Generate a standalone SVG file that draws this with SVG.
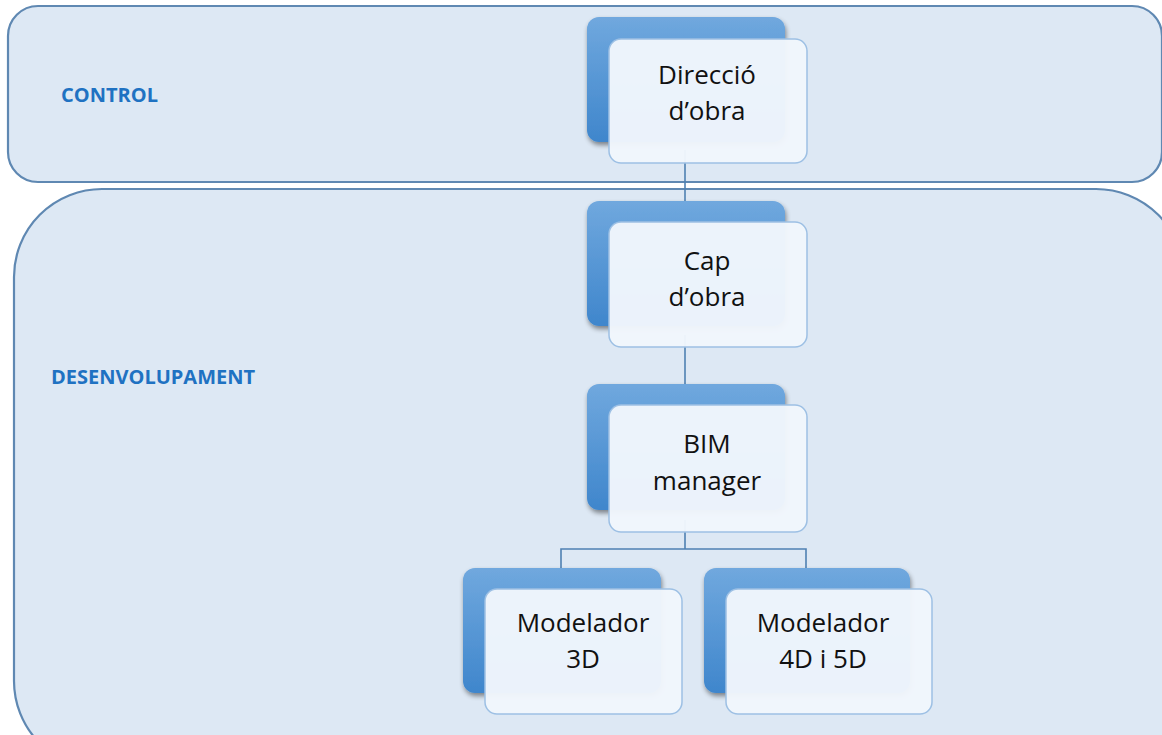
<svg xmlns="http://www.w3.org/2000/svg" width="1162" height="735" viewBox="0 0 1162 735">
<style>
.panel{fill:#dde8f4;stroke:#5f88b2;stroke-width:2.2}
.lbl{font-family:"Open Sans","DejaVu Sans",sans-serif;font-weight:bold;font-size:20px;fill:#1f72c2}
.back{fill:url(#bg);filter:url(#sh)}
.front{fill:#f1f6fc;fill-opacity:0.97;stroke:#9dc0e4;stroke-width:1.5}
.txt{font-family:"Open Sans","DejaVu Sans",sans-serif;font-size:26px;fill:#111;text-anchor:middle}
.conn{fill:none;stroke:#4f80b2;stroke-width:1.6}
</style>
<defs>
<linearGradient id="bg" x1="0" y1="0" x2="0" y2="1">
<stop offset="0" stop-color="#70a8de"/>
<stop offset="1" stop-color="#3f86cc"/>
</linearGradient>
<filter id="sh" x="-10%" y="-10%" width="125%" height="130%">
<feGaussianBlur in="SourceAlpha" stdDeviation="2.5"/>
<feOffset dx="1" dy="3" result="b"/>
<feComponentTransfer><feFuncA type="linear" slope="0.45"/></feComponentTransfer>
<feMerge><feMergeNode/><feMergeNode in="SourceGraphic"/></feMerge>
</filter>
</defs>
<rect width="1162" height="735" fill="#ffffff"/>
<g id="panel-control">
<rect class="panel" x="8" y="6" width="1154" height="176" rx="30"/>
<text class="lbl" x="61" y="102">CONTROL</text>
</g>
<g id="panel-desenvolupament">
<rect class="panel" x="14" y="189" width="1170" height="580" rx="88"/>
<text class="lbl" x="51" y="384">DESENVOLUPAMENT</text>
</g>
<g id="connectors">
<path class="conn" d="M685,150 V215"/>
<path class="conn" d="M685,335 V398"/>
<path class="conn" d="M685,520 V549 M561,568 V549 H806 V568"/>
</g>
<g id="node-direccio">
<rect class="back" x="587" y="17" width="198" height="125" rx="12"/>
<rect class="front" x="609" y="39" width="198" height="124" rx="12"/>
<text class="txt" x="707" y="84">Direcció</text>
<text class="txt" x="707" y="120">d’obra</text>
</g>
<g id="node-cap">
<rect class="back" x="587" y="201" width="198" height="125" rx="12"/>
<rect class="front" x="609" y="222" width="198" height="125" rx="12"/>
<text class="txt" x="707" y="270">Cap</text>
<text class="txt" x="707" y="306">d’obra</text>
</g>
<g id="node-bim">
<rect class="back" x="587" y="384" width="198" height="126" rx="12"/>
<rect class="front" x="609" y="405" width="198" height="127" rx="12"/>
<text class="txt" x="707" y="453">BIM</text>
<text class="txt" x="707" y="490">manager</text>
</g>
<g id="node-modelador-3d">
<rect class="back" x="463" y="568" width="198" height="125" rx="12"/>
<rect class="front" x="485" y="589" width="197" height="125" rx="12"/>
<text class="txt" x="583" y="632">Modelador</text>
<text class="txt" x="583" y="668">3D</text>
</g>
<g id="node-modelador-4d5d">
<rect class="back" x="704" y="568" width="206" height="125" rx="12"/>
<rect class="front" x="726" y="589" width="206" height="125" rx="12"/>
<text class="txt" x="823" y="632">Modelador</text>
<text class="txt" x="823" y="668">4D i 5D</text>
</g>
</svg>
